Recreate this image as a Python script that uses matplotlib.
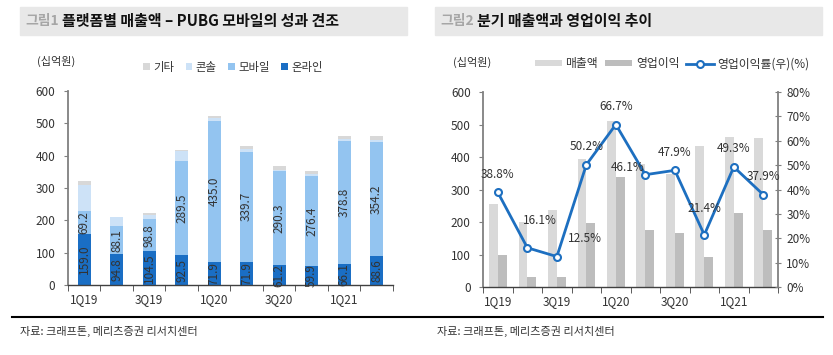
import numpy as np
import matplotlib
matplotlib.use('Agg')
import matplotlib.pyplot as plt
from matplotlib.patches import Rectangle
from matplotlib.lines import Line2D

plt.rcParams['font.family'] = ['Noto Sans CJK KR', 'DejaVu Sans']

# data
quarters = ['1Q19', '2Q19', '3Q19', '4Q19', '1Q20', '2Q20', '3Q20', '4Q20', '1Q21', '2Q21']
online = [159.0, 94.8, 104.5, 92.5, 71.9, 71.9, 61.2, 59.9, 66.1, 88.6]
mobile = [69.2, 88.1, 98.8, 289.5, 435.0, 339.7, 290.3, 276.4, 378.8, 354.2]
console = [82, 27, 13, 32, 8, 8, 4, 8, 5, 5]
etc = [10, 1, 5, 3, 7, 10, 12, 8, 12, 12]

revenue = [256, 200, 238, 395, 510, 380, 349, 434, 461, 459]
op_profit = [99, 32, 30, 198, 340, 175, 167, 93, 228, 174]
op_margin = [38.8, 16.1, 12.5, 50.2, 66.7, 46.1, 47.9, 21.4, 49.3, 37.9]

c_online = '#1a6ec4'
c_mobile = '#93c4f0'
c_console = '#cde2f7'
c_etc = '#d8d8d8'
c_rev = '#d9d9d9'
c_op = '#bdbdbd'
c_line = '#1d6fc0'
txt = '#333333'
spine_c = '#808080'

fig = plt.figure(figsize=(8.33, 3.55), dpi=100)

# title bands
for x0, num, title in [(20, '그림1', '플랫폼별 매출액 – PUBG 모바일의 성과 견조'),
                       (435, '그림2', '분기 매출액과 영업이익 추이')]:
    fig.patches.append(Rectangle((x0 / 833, 1 - 35 / 355), 387 / 833, 28 / 355,
                                 transform=fig.transFigure, color='#e8e8e8', zorder=0))
    fig.text((x0 + 5) / 833, 1 - 21 / 355, num, color='#a6a6a6', fontsize=10,
             fontweight='bold', va='center', ha='left')
    fig.text((x0 + 42) / 833, 1 - 21 / 355, title, color='#111111', fontsize=10.8,
             fontweight='bold', va='center', ha='left')

# bottom rule and sources
fig.add_artist(Line2D([12 / 833, 823 / 833], [1 - 317 / 355, 1 - 317 / 355],
                      transform=fig.transFigure, color='black', lw=1.5))
fig.text(20 / 833, 1 - 331 / 355, '자료: 크래프톤, 메리츠증권 리서치센터', fontsize=8,
         color=txt, va='center')
fig.text(437 / 833, 1 - 331 / 355, '자료: 크래프톤, 메리츠증권 리서치센터', fontsize=8,
         color=txt, va='center')

x = np.arange(len(quarters))


def style_axis(ax):
    ax.set_xlim(-0.5, len(quarters) - 0.5)
    ax.set_ylim(0, 600)
    ax.set_yticks(range(0, 601, 100))
    ax.set_xticks(x[::2])
    ax.set_xticklabels(quarters[::2])
    ax.set_xticks(np.arange(-0.5, len(quarters), 1), minor=True)
    ax.tick_params(axis='x', which='major', length=0, pad=6, labelsize=8.5, colors=txt)
    ax.tick_params(axis='x', which='minor', length=4, direction='out', color='#404040')
    ax.tick_params(axis='y', length=3, direction='out', labelsize=8.5, colors=txt,
                   color=spine_c, pad=6)
    for s in ['top', 'right']:
        ax.spines[s].set_visible(False)
    ax.spines['left'].set_color(spine_c)
    ax.spines['left'].set_linewidth(1.3)
    ax.spines['bottom'].set_color('#404040')
    ax.spines['bottom'].set_linewidth(1.0)


# ---- left chart: platform stacked bars
ax1 = fig.add_axes([0.0816, 0.197, 0.390, 0.547])
w = 0.4
b1 = ax1.bar(x, online, w, color=c_online, label='온라인')
bot = np.array(online)
b2 = ax1.bar(x, mobile, w, bottom=bot, color=c_mobile, label='모바일')
bot = bot + np.array(mobile)
b3 = ax1.bar(x, console, w, bottom=bot, color=c_console, label='콘솔')
bot = bot + np.array(console)
b4 = ax1.bar(x, etc, w, bottom=bot, color=c_etc, label='기타')
style_axis(ax1)

for i in range(len(quarters)):
    ax1.text(x[i], online[i] / 2, f'{online[i]:.1f}', rotation=90, ha='center',
             va='center', fontsize=8.5, color=txt)
    ax1.text(x[i], online[i] + mobile[i] / 2, f'{mobile[i]:.1f}', rotation=90,
             ha='center', va='center', fontsize=8.5, color=txt)

fig.text(37 / 833, 1 - 61 / 355, '(십억원)', fontsize=8, color=txt, va='center')
ax1.legend([b4, b3, b2, b1], ['기타', '콘솔', '모바일', '온라인'], ncol=4,
           loc='center', bbox_to_anchor=(233 / 833, 1 - 67 / 355),
           bbox_transform=fig.transFigure, frameon=False, fontsize=8.2,
           handlelength=0.6, handleheight=0.6, handletextpad=0.3,
           columnspacing=1.0, labelcolor=txt)

# ---- right chart: revenue, OP, margin
ax2 = fig.add_axes([0.580, 0.1915, 0.354, 0.549])
bw = 0.3
r1 = ax2.bar(x - bw / 2, revenue, bw, color=c_rev, label='매출액')
r2 = ax2.bar(x + bw / 2, op_profit, bw, color=c_op, label='영업이익')
style_axis(ax2)

ax3 = ax2.twinx()
ax3.set_ylim(0, 80)
ax3.set_yticks(range(0, 81, 10))
ax3.set_yticklabels([f'{v}%' for v in range(0, 81, 10)])
ax3.tick_params(axis='y', length=4, direction='inout', labelsize=8.5, colors=txt,
                color=spine_c, pad=4)
for s in ['top', 'left', 'bottom']:
    ax3.spines[s].set_visible(False)
ax3.spines['right'].set_color(spine_c)
ax3.spines['right'].set_linewidth(1.3)
ln, = ax3.plot(x, op_margin, color=c_line, lw=2, marker='o', ms=5,
               mfc='white', mec=c_line, mew=1.5, label='영업이익률(우)(%)')

label_offsets = [(0, 13), (9, 20), (20, 13), (0, 13), (0, 13),
                 (-13, 5), (0, 13), (0, 19), (0, 13), (0, 13)]
for i, v in enumerate(op_margin):
    ax3.annotate(f'{v:.1f}%', (x[i], v), xytext=label_offsets[i],
                 textcoords='offset points', ha='center', va='center',
                 fontsize=8.5, color=txt)

fig.text(453 / 833, 1 - 62 / 355, '(십억원)', fontsize=8, color=txt, va='center')
ax3.legend([r1, r2, ln], ['매출액', '영업이익', '영업이익률(우)(%)'], ncol=3,
           loc='center', bbox_to_anchor=(672 / 833, 1 - 64 / 355),
           bbox_transform=fig.transFigure, frameon=False, fontsize=8.5,
           handlelength=2.3, handleheight=0.4, handletextpad=0.3,
           columnspacing=0.6, labelcolor=txt)

fig.savefig('out.png', dpi=100)
